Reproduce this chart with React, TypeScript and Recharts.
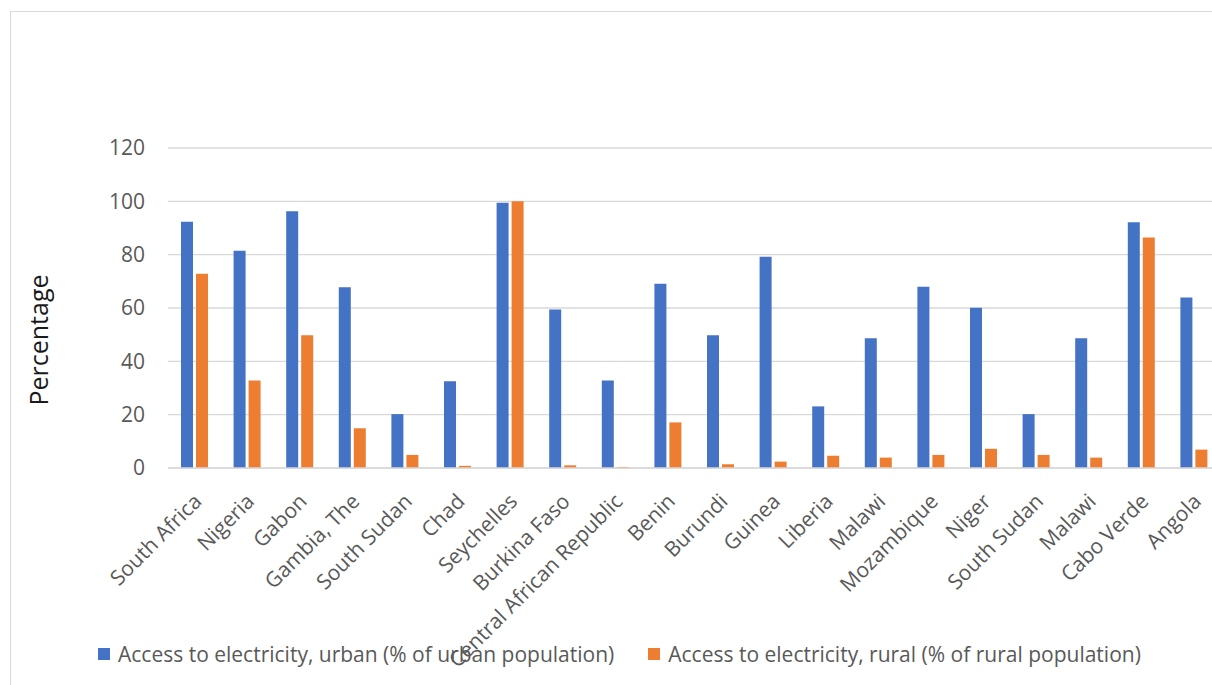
import { BarChart, Bar, XAxis, YAxis, CartesianGrid, Legend } from "recharts";

const countries = [
  "South Africa",
  "Nigeria",
  "Gabon",
  "Gambia, The",
  "South Sudan",
  "Chad",
  "Seychelles",
  "Burkina Faso",
  "Central African Republic",
  "Benin",
  "Burundi",
  "Guinea",
  "Liberia",
  "Malawi",
  "Mozambique",
  "Niger",
  "South Sudan",
  "Malawi",
  "Cabo Verde",
  "Angola",
];

const urbanAccess = [
  92.3, 81.5, 96.3, 67.8, 20.2, 32.5, 99.5, 59.4, 32.8, 69.1,
  49.8, 79.2, 23.1, 48.7, 68.0, 60.1, 20.2, 48.7, 92.2, 63.9,
];

const ruralAccess = [
  72.8, 32.8, 49.8, 14.9, 4.9, 0.8, 100, 1.0, 0.4, 17.1,
  1.4, 2.4, 4.6, 3.9, 4.9, 7.2, 4.9, 3.9, 86.4, 6.9,
];

const yTicks = [0, 20, 40, 60, 80, 100, 120];

const URBAN_LABEL = "Access to electricity, urban (% of urban population)";
const RURAL_LABEL = "Access to electricity, rural (% of rural population)";

const data = countries.map((country, i) => ({
  country,
  urban: urbanAccess[i],
  rural: ruralAccess[i],
}));

const FONT = "'Open Sans', sans-serif";
const BLUE = "#4472C4";
const ORANGE = "#ED7D31";
const GREY_TEXT = "#595959";
const GRID = "#d9d9d9";

// slanted country names, the end of each name sits under its bar pair
const CountryTick = (props: any) => {
  const { x, y, payload } = props;
  return (
    <g transform={`translate(${x - 2},${y + 22})`}>
      <text
        transform="rotate(-45)"
        textAnchor="end"
        dy="0.72em"
        fill={GREY_TEXT}
        fontSize={21}
        fontFamily={FONT}
      >
        {payload.value}
      </text>
    </g>
  );
};

const PercentLabel = (props: any) => {
  const { viewBox } = props;
  const cx = viewBox.x + 38;
  const cy = viewBox.y + viewBox.height / 2 + 32;
  return (
    <text
      x={cx}
      y={cy}
      transform={`rotate(-90, ${cx}, ${cy})`}
      textAnchor="middle"
      dominantBaseline="central"
      fill="#1a1a1a"
      fontSize={25}
      fontFamily={FONT}
    >
      Percentage
    </text>
  );
};

const LegendBox = () => (
  <div
    style={{
      display: "flex",
      alignItems: "center",
      fontFamily: FONT,
      fontSize: 21,
      color: GREY_TEXT,
      whiteSpace: "nowrap",
    }}
  >
    <span style={{ width: 12, height: 12, background: BLUE, marginRight: 8 }} />
    <span style={{ marginRight: 34 }}>{URBAN_LABEL}</span>
    <span style={{ width: 12, height: 12, background: ORANGE, marginRight: 8 }} />
    <span>{RURAL_LABEL}</span>
  </div>
);

export default function App() {
  return (
    <div
      style={{
        position: "absolute",
        left: 0,
        top: 0,
        width: 1212,
        height: 685,
        overflow: "hidden",
        background: "#fff",
      }}
    >
      <div
        style={{
          position: "absolute",
          left: 10,
          top: 11,
          width: 1300,
          height: 800,
          border: `1px solid ${GRID}`,
        }}
      />
      <div style={{ position: "absolute", left: 0, top: 0 }}>
        <BarChart
          width={1230}
          height={685}
          data={data}
          margin={{ top: 148, right: 10, bottom: 69, left: 0 }}
          barSize={12}
          barGap={3}
        >
          <CartesianGrid vertical={false} stroke={GRID} strokeWidth={1.3} />
          <XAxis
            dataKey="country"
            interval={0}
            tickLine={false}
            tickSize={0}
            axisLine={{ stroke: GRID, strokeWidth: 1.3 }}
            tick={<CountryTick />}
            height={120}
          />
          <YAxis
            width={168}
            domain={[0, 120]}
            ticks={yTicks}
            interval={0}
            axisLine={false}
            tickLine={false}
            tickSize={0}
            tickMargin={23}
            tick={{ fill: GREY_TEXT, fontSize: 21, fontFamily: FONT }}
            label={<PercentLabel />}
          />
          <Legend
            verticalAlign="bottom"
            align="left"
            wrapperStyle={{ left: 98, top: 640, width: "auto" }}
            content={<LegendBox />}
          />
          <Bar dataKey="urban" name={URBAN_LABEL} fill={BLUE} isAnimationActive={false} />
          <Bar dataKey="rural" name={RURAL_LABEL} fill={ORANGE} isAnimationActive={false} />
        </BarChart>
      </div>
    </div>
  );
}
